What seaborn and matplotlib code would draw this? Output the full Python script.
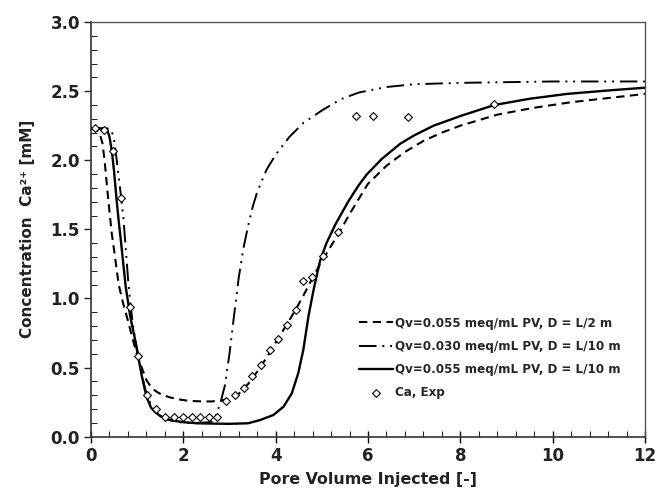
import numpy as np
import pandas as pd
import matplotlib
matplotlib.use("Agg")
import matplotlib.pyplot as plt
import seaborn as sns

# ---- data ----
x_dash = [0, 0.1, 0.15, 0.2, 0.25, 0.3, 0.35, 0.4, 0.45, 0.5, 0.6, 0.7, 0.8, 0.9, 1.0, 1.1,
          1.2, 1.3, 1.4, 1.5, 1.7, 1.9, 2.1, 2.4, 2.6, 2.8, 3.0, 3.2, 3.4, 3.6, 3.8, 4.0,
          4.2, 4.4, 4.6, 4.8, 5.0, 5.2, 5.4, 5.6, 5.8, 6.0, 6.4, 6.8, 7.2, 7.6, 8.0, 8.8,
          9.6, 10.4, 11.2, 12.0]
y_dash = [2.23, 2.23, 2.21, 2.18, 2.12, 1.98, 1.80, 1.63, 1.47, 1.35, 1.10, 0.96, 0.84, 0.71,
          0.59, 0.50, 0.41, 0.36, 0.33, 0.31, 0.285, 0.27, 0.26, 0.255, 0.255, 0.26, 0.275,
          0.31, 0.38, 0.47, 0.57, 0.68, 0.79, 0.90, 1.02, 1.15, 1.27, 1.38, 1.49, 1.61, 1.72,
          1.83, 1.96, 2.06, 2.14, 2.20, 2.25, 2.33, 2.38, 2.42, 2.45, 2.48]

x_dd = [0, 0.3, 0.4, 0.45, 0.5, 0.55, 0.6, 0.65, 0.7, 0.75, 0.8, 0.85, 0.9, 0.95, 1.0, 1.1,
        1.2, 1.3, 1.4, 1.5, 1.7, 2.0, 2.3, 2.6, 2.7, 2.8, 2.9, 3.0, 3.1, 3.2, 3.3, 3.4, 3.5,
        3.6, 3.8, 4.0, 4.3, 4.6, 5.0, 5.4, 5.8, 6.4, 7.0, 8.0, 9.0, 10.0, 11.0, 12.0]
y_dd = [2.23, 2.23, 2.23, 2.21, 2.15, 2.02, 1.88, 1.74, 1.59, 1.37, 1.15, 0.98, 0.83, 0.72,
        0.63, 0.45, 0.31, 0.23, 0.18, 0.15, 0.12, 0.10, 0.10, 0.105, 0.15, 0.24, 0.37, 0.60,
        0.88, 1.15, 1.36, 1.52, 1.66, 1.77, 1.93, 2.04, 2.17, 2.27, 2.36, 2.44, 2.49, 2.53,
        2.55, 2.56, 2.565, 2.57, 2.57, 2.57]

x_solid = [0, 0.3, 0.35, 0.4, 0.45, 0.5, 0.55, 0.6, 0.65, 0.7, 0.75, 0.8, 0.85, 0.9, 0.95,
           1.0, 1.1, 1.2, 1.3, 1.4, 1.5, 1.6, 1.8, 2.0, 2.3, 2.6, 3.0, 3.4, 3.66, 3.95, 4.17,
           4.35, 4.49, 4.6, 4.71, 4.82, 4.96, 5.1, 5.3, 5.57, 5.8, 5.98, 6.3, 6.7, 7.0, 7.42,
           8.0, 8.74, 9.5, 10.31, 11.2, 12.0]
y_solid = [2.23, 2.23, 2.22, 2.17, 2.07, 1.92, 1.73, 1.56, 1.41, 1.25, 1.09, 0.98, 0.87, 0.79,
           0.71, 0.62, 0.44, 0.29, 0.21, 0.175, 0.15, 0.13, 0.115, 0.105, 0.097, 0.095, 0.093,
           0.097, 0.12, 0.157, 0.217, 0.314, 0.46, 0.63, 0.87, 1.06, 1.27, 1.40, 1.54, 1.70,
           1.82, 1.90, 2.01, 2.12, 2.18, 2.25, 2.32, 2.40, 2.445, 2.48, 2.505, 2.525]

x_exp = [0.09, 0.29, 0.48, 0.66, 0.85, 1.01, 1.22, 1.41, 1.61, 1.80, 1.99, 2.18, 2.36, 2.55,
         2.73, 2.92, 3.12, 3.31, 3.49, 3.69, 3.87, 4.06, 4.25, 4.43, 4.60, 4.79, 5.02, 5.34,
         5.74, 6.10, 6.86, 8.74]
y_exp = [2.23, 2.22, 2.07, 1.73, 0.935, 0.585, 0.30, 0.20, 0.14, 0.14, 0.14, 0.14, 0.14,
         0.14, 0.14, 0.255, 0.30, 0.35, 0.436, 0.52, 0.627, 0.71, 0.81, 0.92, 1.13, 1.155,
         1.31, 1.48, 2.32, 2.32, 2.316, 2.41]

labels = ["Qv=0.055 meq/mL PV, D = L/2 m",
          "Qv=0.030 meq/mL PV, D = L/10 m",
          "Qv=0.055 meq/mL PV, D = L/10 m",
          "Ca, Exp"]

sns.set_style("ticks")
plt.rcParams['font.family'] = ['DejaVu Sans']

fig = plt.figure(figsize=(6.57, 4.90), dpi=100)
ax = fig.add_axes([0.1385, 0.1088, 0.8432, 0.8462])

sns.lineplot(x=x_dash, y=y_dash, ax=ax, color='black', lw=1.5, sort=False,
             linestyle=(0, (4.0, 2.6)), label=labels[0])
sns.lineplot(x=x_dd, y=y_dd, ax=ax, color='black', lw=1.4, sort=False,
             linestyle=(0, (9, 3, 1, 3, 1, 3)), label=labels[1])
sns.lineplot(x=x_solid, y=y_solid, ax=ax, color='black', lw=1.7, sort=False,
             linestyle='-', label=labels[2])
sns.scatterplot(x=x_exp, y=y_exp, ax=ax, marker='D', s=16, facecolor='white',
                edgecolor='black', linewidth=0.8, label=labels[3], zorder=5)

ax.set_xlim(0, 12)
ax.set_ylim(0, 3.0)
ax.set_xticks(np.arange(0, 13, 2))
ax.set_xticks(np.arange(0, 12.01, 0.4), minor=True)
ax.set_yticks(np.arange(0, 3.01, 0.5))
ax.set_yticks(np.arange(0, 3.01, 0.1), minor=True)
ax.set_yticklabels([f"{v:.1f}" for v in np.arange(0, 3.01, 0.5)])

ax.tick_params(axis='x', which='major', direction='inout', length=9, width=1.0,
               labelsize=12, pad=3, colors='black')
ax.tick_params(axis='x', which='minor', direction='in', length=4, width=0.8)
ax.tick_params(axis='y', which='major', direction='out', length=5, width=1.0,
               labelsize=12, pad=3)
ax.tick_params(axis='y', which='minor', direction='in', length=4, width=0.8)
for lab in ax.get_xticklabels() + ax.get_yticklabels():
    lab.set_fontweight('bold')
    lab.set_color('#222222')

for side in ['left', 'bottom']:
    ax.spines[side].set_color('#333333')
    ax.spines[side].set_linewidth(1.2)
for side in ['top', 'right']:
    ax.spines[side].set_visible(True)
    ax.spines[side].set_color('#555555')
    ax.spines[side].set_linewidth(1.0)

ax.set_xlabel("Pore Volume Injected [-]", fontsize=11.4, fontweight='bold',
              color='#222222', labelpad=5)
ax.set_ylabel("Concentration  Ca²⁺ [mM]", fontsize=11.0, fontweight='bold',
              color='#222222', labelpad=11)

leg = ax.legend(loc='lower right', bbox_to_anchor=(0.975, 0.065), frameon=False,
                handlelength=2.8, handletextpad=0.15, labelspacing=0.85,
                prop={'weight': 'bold', 'size': 8.6})

fig.savefig("out.png", dpi=100)
